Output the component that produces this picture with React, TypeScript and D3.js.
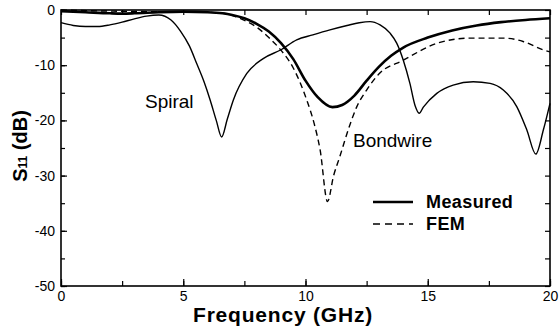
import React, { useEffect, useRef } from 'react';
import * as d3 from 'd3';

const X_TICKS = [0, 5, 10, 15, 20];
const Y_TICKS = [0, -10, -20, -30, -40, -50];

// Spiral inductor, measured
const SPIRAL_FREQ = [0, 0.5, 1, 1.5, 2, 2.5, 3, 3.5, 4, 4.5, 4.9, 5.25, 5.55, 5.85, 6.1, 6.35, 6.57, 6.8, 7.05, 7.6, 8.27, 9.0, 9.64, 10.3, 11.0, 11.7, 12.2, 12.64, 13.05, 13.46, 13.73, 14.0, 14.27, 14.48, 14.65, 14.82, 15.37, 16.04, 16.86, 17.55, 18.09, 18.64, 19.05, 19.42, 19.73, 20];
const SPIRAL_DB = [-2.3, -2.8, -3.0, -3.0, -2.7, -2.2, -1.6, -1.1, -0.9, -1.8, -3.9, -6.5, -9.7, -13.0, -16.3, -20.0, -23.0, -19.8, -16.3, -11.5, -8.8, -7.2, -5.4, -4.5, -3.6, -2.8, -2.3, -2.1, -2.7, -4.2, -6.0, -9.1, -13.3, -17.3, -18.7, -17.6, -15.1, -13.6, -13.0, -13.3, -14.5, -17.5, -21.7, -26.1, -21.7, -16.9];

// Bondwire, measured
const BOND_FREQ = [0, 1, 2, 2.5, 3, 4, 5, 6, 6.6, 7, 7.5, 8, 8.5, 9, 9.5, 10, 10.5, 11.1, 11.5, 12, 12.5, 13, 13.5, 14, 15, 16, 17, 18, 19, 20];
const BOND_DB = [-0.2, -0.4, -0.6, -0.65, -0.6, -0.4, -0.3, -0.4, -0.6, -0.9, -1.5, -2.5, -3.9, -6.0, -8.9, -12.8, -15.8, -17.6, -17.2, -15.5, -12.8, -10.3, -8.3, -6.8, -5.0, -3.7, -2.8, -2.2, -1.8, -1.5];

// Bondwire, FEM
const FEM_FREQ = [0, 2, 4, 5, 6, 6.8, 7.2, 7.6, 8.0, 8.5, 9.0, 9.5, 10.05, 10.35, 10.6, 10.9, 11.15, 11.4, 11.8, 12.1, 12.5, 13.0, 14.0, 15.4, 16.7, 18.1, 18.9, 19.7, 20];
const FEM_DB = [0, -0.2, -0.3, -0.3, -0.4, -0.7, -1.3, -2.1, -3.1, -5.0, -7.3, -10.5, -16.3, -20.5, -25.4, -34.7, -30.0, -26.6, -21.0, -17.5, -14.5, -11.6, -9.1, -6.0, -5.1, -5.1, -5.7, -7.2, -7.6];

const FONT = "'Liberation Sans', Arial, Helvetica, sans-serif";

export default function App() {
  const svgRef = useRef<SVGSVGElement>(null);

  const W = 559;
  const H = 328;
  const MARGIN = { top: 10, right: 9, bottom: 42, left: 61 };

  useEffect(() => {
    const svg = d3.select(svgRef.current);
    svg.selectAll('*').remove();

    const x = d3.scaleLinear().domain([0, 20]).range([MARGIN.left, W - MARGIN.right]);
    const y = d3.scaleLinear().domain([-50, 0]).range([H - MARGIN.bottom, MARGIN.top]);

    const minorX = d3.range(0, 20.01, 2.5);
    const minorY = d3.range(-50, 0.01, 5);

    // bottom axis, ticks pointing in
    const bottom = svg.append('g')
      .attr('transform', `translate(0,${y(-50)})`)
      .call(d3.axisBottom(x).tickValues(minorX).tickSizeInner(-5).tickSizeOuter(0).tickFormat(() => ''));
    bottom.append('g').call(
      d3.axisBottom(x).tickValues(X_TICKS).tickSizeInner(-7).tickSizeOuter(0).tickPadding(5)
        .tickFormat(d => String(d))
    );

    // top axis
    svg.append('g')
      .attr('transform', `translate(0,${y(0)})`)
      .call(d3.axisTop(x).tickValues(minorX).tickSizeInner(-5).tickSizeOuter(0).tickFormat(() => ''));

    // left axis
    const left = svg.append('g')
      .attr('transform', `translate(${x(0)},0)`)
      .call(d3.axisLeft(y).tickValues(minorY).tickSizeInner(-4).tickSizeOuter(0).tickFormat(() => ''));
    left.append('g').call(
      d3.axisLeft(y).tickValues(Y_TICKS).tickSizeInner(-6).tickSizeOuter(0).tickPadding(6)
        .tickFormat(d => String(d))
    );

    // right axis
    svg.append('g')
      .attr('transform', `translate(${x(20)},0)`)
      .call(d3.axisRight(y).tickValues(minorY).tickSizeInner(-5).tickSizeOuter(0).tickFormat(() => ''));

    svg.selectAll('.domain').remove();
    svg.selectAll('.tick line').attr('stroke', '#000').attr('stroke-width', 1.2);
    svg.selectAll('.tick text')
      .attr('fill', '#000')
      .style('font-family', FONT)
      .style('font-size', '14px');

    // frame
    svg.append('rect')
      .attr('x', x(0))
      .attr('y', y(0))
      .attr('width', x(20) - x(0))
      .attr('height', y(-50) - y(0))
      .attr('fill', 'none')
      .attr('stroke', '#000')
      .attr('stroke-width', 1.6);

    const line = d3.line<[number, number]>()
      .x(d => x(d[0]))
      .y(d => y(d[1]))
      .curve(d3.curveMonotoneX);

    const g = svg.append('g');
    g.append('path')
      .attr('d', line(SPIRAL_FREQ.map((f, i) => [f, SPIRAL_DB[i]])))
      .attr('fill', 'none')
      .attr('stroke', '#000')
      .attr('stroke-width', 1.4);
    g.append('path')
      .attr('d', line(FEM_FREQ.map((f, i) => [f, FEM_DB[i]])))
      .attr('fill', 'none')
      .attr('stroke', '#000')
      .attr('stroke-width', 1.4)
      .attr('stroke-dasharray', '6,4');
    g.append('path')
      .attr('d', line(BOND_FREQ.map((f, i) => [f, BOND_DB[i]])))
      .attr('fill', 'none')
      .attr('stroke', '#000')
      .attr('stroke-width', 2.6);

    // curve labels
    svg.append('text')
      .attr('x', 145).attr('y', 108)
      .style('font-family', FONT).style('font-size', '19px')
      .text('Spiral');
    svg.append('text')
      .attr('x', 353).attr('y', 147)
      .style('font-family', FONT).style('font-size', '19px')
      .text('Bondwire');

    // legend
    svg.append('line')
      .attr('x1', 373).attr('x2', 413).attr('y1', 202).attr('y2', 202)
      .attr('stroke', '#000').attr('stroke-width', 2.4);
    svg.append('line')
      .attr('x1', 373).attr('x2', 413).attr('y1', 224).attr('y2', 224)
      .attr('stroke', '#000').attr('stroke-width', 1.4)
      .attr('stroke-dasharray', '7,5');
    svg.append('text')
      .attr('x', 426).attr('y', 208)
      .style('font-family', FONT).style('font-size', '18px').style('font-weight', '700')
      .style('letter-spacing', '0.4px')
      .text('Measured');
    svg.append('text')
      .attr('x', 426).attr('y', 230)
      .style('font-family', FONT).style('font-size', '18px').style('font-weight', '700')
      .style('letter-spacing', '0.4px')
      .text('FEM');

    // axis titles
    svg.append('text')
      .attr('x', 193).attr('y', 322)
      .style('font-family', FONT).style('font-size', '21px').style('font-weight', '700')
      .style('letter-spacing', '0.8px')
      .text('Frequency (GHz)');

    const yt = svg.append('text')
      .attr('transform', `translate(27,146) rotate(-90)`)
      .attr('text-anchor', 'middle')
      .style('font-family', FONT).style('font-size', '20px').style('font-weight', '700');
    yt.append('tspan').text('S');
    yt.append('tspan').style('font-size', '12px').text('11');
    yt.append('tspan').text(' (dB)');
  }, []);

  return (
    <svg
      ref={svgRef}
      width={W}
      height={H}
      style={{ position: 'absolute', left: 0, top: 0, background: '#fff' }}
    />
  );
}
